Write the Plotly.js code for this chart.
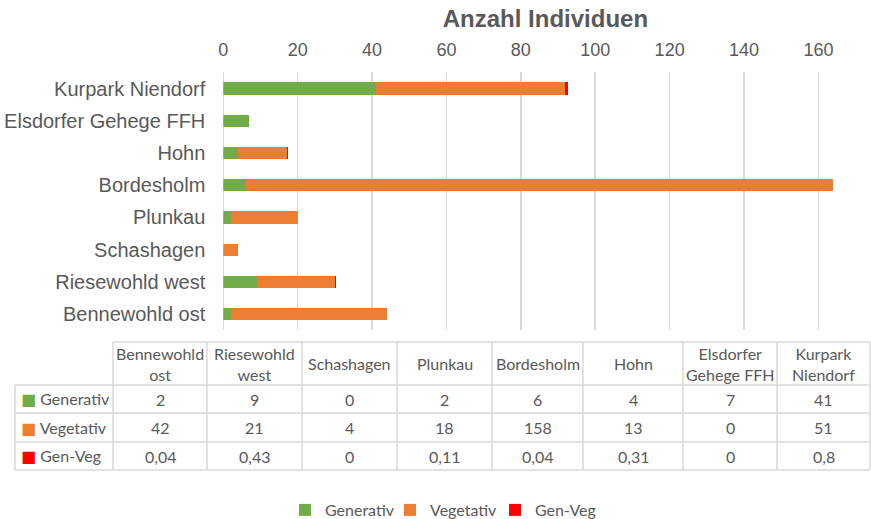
<!DOCTYPE html>
<html><head><meta charset="utf-8">
<script src="https://cdn.plot.ly/plotly-3.0.1.min.js"></script>
<style>html,body{margin:0;padding:0;background:#fff}#chart{width:871px;height:519px}</style>
</head><body><div id="chart"></div>
<script>
// ---- data ----
const categories = ["Bennewohld ost","Riesewohld west","Schashagen","Plunkau","Bordesholm","Hohn","Elsdorfer Gehege FFH","Kurpark Niendorf"];
const generativ = [2, 9, 0, 2, 6, 4, 7, 41];
const vegetativ = [42, 21, 4, 18, 158, 13, 0, 51];
const genVeg = [0.04, 0.43, 0, 0.11, 0.04, 0.31, 0, 0.8];
const seriesNames = ["Generativ", "Vegetativ", "Gen-Veg"];
const xTicks = [0, 20, 40, 60, 80, 100, 120, 140, 160];
const axisTitle = "Anzahl Individuen";

// ---- styling / layout geometry (pixels) ----
const colors = ["#70AD47", "#ED7D31", "#FF0000"];
const grey = "#595959";
const lineCol = "#d9d9d9";
const W = 871, H = 519;
const tableLeft = 15;
const colWidths = [98, 94, 95, 95, 95, 91, 100, 94, 93];
const rowEdges = [342, 385, 413, 442, 470];
const tableFont = {family: "Lato, 'Open Sans', sans-serif", size: 16, color: grey};

const fmt = v => String(v).replace(".", ",");
const px = p => p / W;
const py = p => 1 - p / H;

// ---- bars ----
const series = [generativ, vegetativ, genVeg];
const barTraces = series.map((vals, i) => ({
  type: "bar", orientation: "h", name: seriesNames[i],
  x: vals, y: categories, marker: {color: colors[i]},
  hoverinfo: "none"
}));

// ---- data table (shapes + annotations) ----
const colEdges = [tableLeft];
colWidths.forEach(w => colEdges.push(colEdges[colEdges.length - 1] + w));
const right = colEdges[colEdges.length - 1];
const shapes = [];
const ln = (x0, y0, x1, y1) => shapes.push({type: "line", xref: "paper", yref: "paper",
  x0: px(x0), y0: py(y0), x1: px(x1), y1: py(y1), line: {color: lineCol, width: 1.5}});
ln(colEdges[1], rowEdges[0], right, rowEdges[0]);
rowEdges.slice(1).forEach(y => ln(tableLeft, y, right, y));
colEdges.forEach((x, k) => ln(x, k === 0 ? rowEdges[1] : rowEdges[0], x, rowEdges[rowEdges.length - 1]));

const annotations = [];
const cellText = (text, c, r, align) => {
  const x0 = colEdges[c], x1 = colEdges[c + 1];
  const y0 = rowEdges[r], y1 = rowEdges[r + 1];
  annotations.push({
    xref: "paper", yref: "paper", showarrow: false, text: text,
    x: align === "left" ? px(x0 + 4) : px((x0 + x1) / 2),
    xanchor: align === "left" ? "left" : "center",
    y: py((y0 + y1) / 2), yanchor: "middle", align: "center",
    font: tableFont
  });
};
categories.forEach((c, k) => cellText(c.replace(" ", "<br>"), k + 1, 0, "center"));
seriesNames.forEach((n, i) => {
  cellText(`<span style="color:${colors[i]};font-family:'DejaVu Sans'">■</span> ${n}`, 0, i + 1, "left");
  series[i].forEach((v, k) => cellText(fmt(v), k + 1, i + 1, "center"));
});

const layout = {
  width: W, height: H,
  margin: {l: 0, r: 0, t: 0, b: 0, autoexpand: false},
  paper_bgcolor: "white", plot_bgcolor: "white",
  barmode: "stack", bargap: 0.625,
  showlegend: true,
  legend: {
    orientation: "h", x: px(285), xanchor: "left", y: py(510), yanchor: "middle",
    traceorder: "normal", entrywidth: 60, entrywidthmode: "pixels",
    font: {family: "Lato, 'Open Sans', sans-serif", size: 16, color: grey}
  },
  xaxis: {
    side: "top", range: [0, 173.2], domain: [px(223.3), px(867.5)],
    tickvals: xTicks, ticktext: xTicks.map(String),
    showgrid: true, gridcolor: lineCol, gridwidth: 1.5,
    zeroline: true, zerolinecolor: lineCol, zerolinewidth: 1.5,
    showline: false, ticks: "", automargin: false, ticklabelstandoff: 12,
    tickfont: {family: "'Liberation Sans', Arial, sans-serif", size: 18, color: grey},
    title: {text: axisTitle, standoff: 5,
      font: {family: "'Liberation Sans', Arial, sans-serif", size: 24, color: grey, weight: "bold"}},
    fixedrange: true
  },
  yaxis: {
    type: "category", range: [-0.5, 7.5], domain: [py(330.3), py(72.4)],
    showgrid: false, zeroline: false, showline: false, ticks: "", automargin: false,
    ticklabelstandoff: 17,
    tickfont: {family: "'Liberation Sans', Arial, sans-serif", size: 20, color: grey},
    fixedrange: true
  },
  shapes: shapes,
  annotations: annotations
};

Plotly.newPlot("chart", barTraces, layout, {displayModeBar: false, staticPlot: true});
</script>
</body></html>
